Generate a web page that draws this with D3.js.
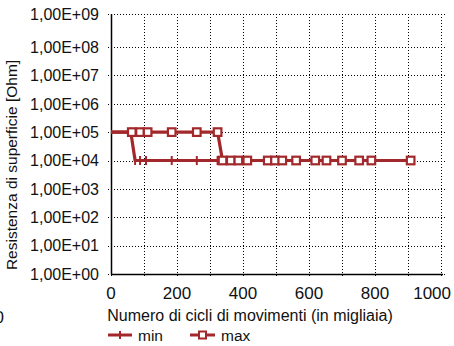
<!DOCTYPE html>
<html><head><meta charset="utf-8">
<script src="https://cdn.jsdelivr.net/npm/d3@7"></script>
<style>
body{margin:0;background:#fff;}
svg{display:block;font-family:"Liberation Sans",Arial,Helvetica,sans-serif;}
</style></head>
<body>
<svg id="c" width="454" height="346"></svg>
<script>
// data (x in migliaia di cicli, y in Ohm)
const minX = [0, 60, 73, 88, 106, 184, 260, 323, 338, 363, 386, 413, 475, 497, 519, 561, 619, 653, 700, 752, 789, 908];
const minY = [1e5, 1e5, 1e4, 1e4, 1e4, 1e4, 1e4, 1e4, 1e4, 1e4, 1e4, 1e4, 1e4, 1e4, 1e4, 1e4, 1e4, 1e4, 1e4, 1e4, 1e4, 1e4];
const maxX = [0, 63, 88, 111, 184, 260, 323, 338, 363, 386, 413, 475, 497, 519, 561, 619, 653, 700, 752, 789, 908];
const maxY = [1e5, 1e5, 1e5, 1e5, 1e5, 1e5, 1e5, 1e4, 1e4, 1e4, 1e4, 1e4, 1e4, 1e4, 1e4, 1e4, 1e4, 1e4, 1e4, 1e4, 1e4];
const yTicks = [1e0, 1e1, 1e2, 1e3, 1e4, 1e5, 1e6, 1e7, 1e8, 1e9];
const yTickLabels = ["1,00E+00","1,00E+01","1,00E+02","1,00E+03","1,00E+04","1,00E+05","1,00E+06","1,00E+07","1,00E+08","1,00E+09"];
const xGrid = [100, 200, 300, 400, 500, 600, 700, 800, 900, 1000];
const xTickLabels = [0, 200, 400, 600, 800, 1000];
const seriesNames = ["min", "max"];

const red = "#a3282b";
const svg = d3.select("#c");
const x = d3.scaleLinear().domain([0, 1000]).range([111, 441]);
const y = d3.scaleLog().domain([1, 1e8, 1e9]).range([274, 47, 14]);
const xRight = 445;

// grid
const g = svg.append("g");
g.selectAll(".hg").data(yTicks).join("line")
  .attr("x1", 108).attr("x2", xRight)
  .attr("y1", d => Math.round(y(d)) + 0.5).attr("y2", d => Math.round(y(d)) + 0.5)
  .attr("stroke", "#000").attr("stroke-width", 1).attr("stroke-dasharray", "1,2");
g.selectAll(".vg").data([0].concat(xGrid)).join("line")
  .attr("x1", d => Math.round(x(d)) + 0.5).attr("x2", d => Math.round(x(d)) + 0.5)
  .attr("y1", y(1e9)).attr("y2", 277)
  .attr("stroke", "#000").attr("stroke-width", 1).attr("stroke-dasharray", "1,2");

// axes
svg.append("line").attr("x1", 111.5).attr("x2", 111.5).attr("y1", y(1e9)).attr("y2", 274.5)
  .attr("stroke", "#000").attr("stroke-width", 1.5);
svg.append("line").attr("x1", 111).attr("x2", 443).attr("y1", 274.5).attr("y2", 274.5)
  .attr("stroke", "#000").attr("stroke-width", 1.5);

// y tick labels
svg.selectAll(".yl").data(yTicks).join("text")
  .attr("x", 99).attr("y", d => y(d)).attr("dy", "0.36em")
  .attr("text-anchor", "end").attr("font-size", 16).attr("fill", "#111")
  .text((d, i) => yTickLabels[i]);

// x tick labels
svg.selectAll(".xl").data(xTickLabels).join("text")
  .attr("x", (d, i) => i === xTickLabels.length - 1 ? 451 : x(d))
  .attr("y", 298.5)
  .attr("text-anchor", (d, i) => i === xTickLabels.length - 1 ? "end" : "middle")
  .attr("font-size", 17).attr("fill", "#111")
  .text(d => d);

// axis titles
svg.append("text").attr("x", 250).attr("y", 321).attr("text-anchor", "middle")
  .attr("font-size", 16).attr("fill", "#111")
  .text("Numero di cicli di movimenti (in migliaia)");
svg.append("text").attr("transform", "translate(17,165) rotate(-90)")
  .attr("text-anchor", "middle").attr("font-size", 15.5).attr("fill", "#111")
  .text("Resistenza di superficie [Ohm]");
// clipped label from neighbouring chart
svg.append("text").attr("x", 4).attr("y", 323).attr("text-anchor", "end")
  .attr("font-size", 17).attr("fill", "#111").text("0");

const line = d3.line().x(d => x(d[0])).y(d => y(d[1]));
const minData = minX.map((v, i) => [v, minY[i]]);
const maxData = maxX.map((v, i) => [v, maxY[i]]);

// min series
svg.append("path").datum(minData).attr("d", line)
  .attr("fill", "none").attr("stroke", red).attr("stroke-width", 3.2).attr("stroke-linejoin", "round");
svg.selectAll(".mm").data(minData.filter(d => d[0] > 0)).join("line")
  .attr("x1", d => x(d[0])).attr("x2", d => x(d[0]))
  .attr("y1", d => y(d[1]) - 4.5).attr("y2", d => y(d[1]) + 4.5)
  .attr("stroke", red).attr("stroke-width", 2);

// max series
svg.append("path").datum(maxData).attr("d", line)
  .attr("fill", "none").attr("stroke", red).attr("stroke-width", 3.2).attr("stroke-linejoin", "round");
svg.selectAll(".xm").data(maxData.filter(d => d[0] > 0)).join("rect")
  .attr("x", d => x(d[0]) - 3.8).attr("y", d => y(d[1]) - 3.8)
  .attr("width", 7.6).attr("height", 7.6)
  .attr("fill", "#fff").attr("stroke", red).attr("stroke-width", 2.2);

// legend
const lg = svg.append("g");
[[108, 132], [190, 215]].forEach((p, i) => {
  lg.append("line").attr("x1", p[0]).attr("x2", p[1]).attr("y1", 335).attr("y2", 335)
    .attr("stroke", red).attr("stroke-width", 3);
  const cx = (p[0] + p[1]) / 2;
  if (i === 0) {
    lg.append("line").attr("x1", cx).attr("x2", cx).attr("y1", 331).attr("y2", 339)
      .attr("stroke", red).attr("stroke-width", 2);
  } else {
    lg.append("rect").attr("x", cx - 3.5).attr("y", 331.5).attr("width", 7).attr("height", 7)
      .attr("fill", "#fff").attr("stroke", red).attr("stroke-width", 2);
  }
  lg.append("text").attr("x", p[1] + 6).attr("y", 341).attr("font-size", 15.5)
    .attr("fill", "#111").text(seriesNames[i]);
});
</script>
</body></html>
